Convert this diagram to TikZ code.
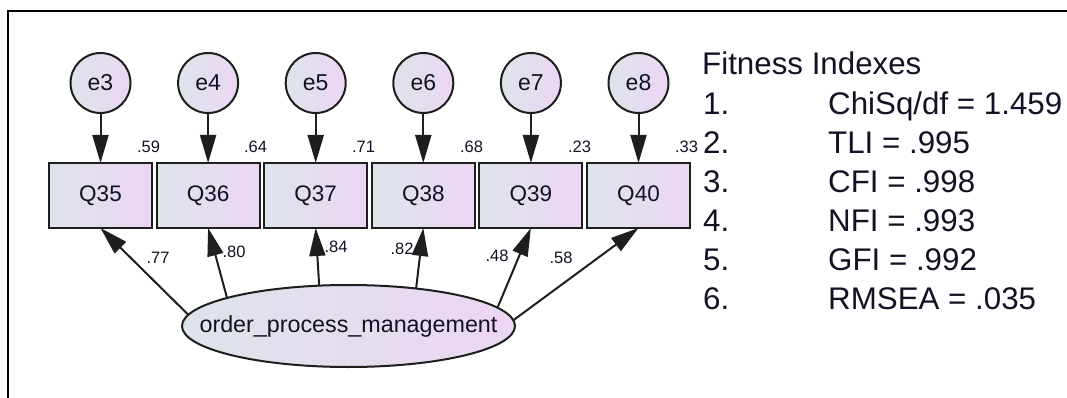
\documentclass[tikz,border=0pt]{standalone}
\usepackage{fontspec}
\setmainfont{Liberation Sans}
\usetikzlibrary{arrows.meta,shapes.geometric}
\definecolor{gL}{RGB}{222,228,234}
\definecolor{gR}{RGB}{236,214,243}
\definecolor{txt}{RGB}{18,18,36}
\definecolor{edge}{RGB}{30,30,30}
\begin{document}
\begin{tikzpicture}[x=1pt,y=-1pt,
  every node/.style={text=txt},
  obs/.style={rectangle,draw=edge,line width=2pt,left color=gL,right color=gR,
    minimum width=103pt,minimum height=65pt,inner sep=0pt,outer sep=0pt,
    font=\fontsize{22.5}{27}\selectfont},
  err/.style={circle,draw=edge,line width=2pt,left color=gL,right color=gR,
    minimum size=60pt,inner sep=0pt,outer sep=0pt,
    font=\fontsize{23}{27}\selectfont},
  lat/.style={ellipse,draw=edge,line width=2pt,left color=gL,right color=gR,
    minimum width=333pt,minimum height=82pt,inner sep=0pt,outer sep=0pt,
    font=\fontsize{23.3}{28}\selectfont},
  arr/.style={draw=edge,line width=2pt,-{Triangle[length=28pt,width=16pt]}},
  est/.style={font=\fontsize{16.5}{20}\selectfont,inner sep=0pt},
  fitt/.style={anchor=base west,inner sep=0pt,font=\fontsize{31.3}{36}\selectfont},
  frame/.style={line width=2pt,draw=black}
]
\useasboundingbox (0,0) rectangle (1067,398);
% frame
\draw[frame] (8,398) -- (8,11) -- (1067,11);

% observed variables
\node[obs] (Q35) at (100.5,195.5) {Q35};
\node[obs] (Q36) at (208.1,195.5) {Q36};
\node[obs] (Q37) at (315.7,195.5) {Q37};
\node[obs] (Q38) at (423.3,195.5) {Q38};
\node[obs] (Q39) at (530.9,195.5) {Q39};
\node[obs] (Q40) at (638.5,195.5) {Q40};

% error terms
\node[err] (e3) at (100.5,83) {e3};
\node[err] (e4) at (208.1,83) {e4};
\node[err] (e5) at (315.7,83) {e5};
\node[err] (e6) at (423.3,83) {e6};
\node[err] (e7) at (530.9,83) {e7};
\node[err] (e8) at (638.5,83) {e8};

% latent
\node[lat] (opm) at (348.5,326) {\makebox[0pt]{order\_process\_management}};

% error paths
\draw[arr] (e3) -- (Q35);
\draw[arr] (e4) -- (Q36);
\draw[arr] (e5) -- (Q37);
\draw[arr] (e6) -- (Q38);
\draw[arr] (e7) -- (Q39);
\draw[arr] (e8) -- (Q40);

% loadings
\draw[arr] (opm.176.9) -- (Q35.south);
\draw[arr] (opm.167) -- (Q36.south);
\draw[arr] (opm.126.6) -- (Q37.south);
\draw[arr] (opm.29) -- (Q38.south);
\draw[arr] (opm.7.2) -- (Q39.south);
\draw[arr] (opm.2.8) -- (Q40.south);

% squared multiple correlations
\node[est] (r35) at (148.5,147) {.59};
\node[est] (r36) at (255.5,147) {.64};
\node[est] (r37) at (363.5,147) {.71};
\node[est] (r38) at (471.5,147) {.68};
\node[est] (r39) at (579.5,147) {.23};
\node[est] (r40) at (686.5,147) {.33};

% loading estimates
\node[est] (l35) at (158,258) {.77};
\node[est] (l36) at (234,252) {.80};
\node[est] (l37) at (336,247) {.84};
\node[est] (l38) at (402,249) {.82};
\node[est] (l39) at (497,256) {.48};
\node[est] (l40) at (561,258) {.58};

% fitness indexes
\node[fitt] (fh) at (702,74.5) {Fitness Indexes};
\node[fitt] (n1) at (703,115) {1.};
\node[fitt] (n2) at (703,153.8) {2.};
\node[fitt] (n3) at (703,192.6) {3.};
\node[fitt] (n4) at (703,231.4) {4.};
\node[fitt] (n5) at (703,270.2) {5.};
\node[fitt] (n6) at (703,309) {6.};
\node[fitt] (v1) at (828,115) {ChiSq/df = 1.459};
\node[fitt] (v2) at (828,153.8) {TLI = .995};
\node[fitt] (v3) at (828,192.6) {CFI = .998};
\node[fitt] (v4) at (828,231.4) {NFI = .993};
\node[fitt] (v5) at (828,270.2) {GFI = .992};
\node[fitt] (v6) at (828,309) {RMSEA = .035};
\end{tikzpicture}
\end{document}
